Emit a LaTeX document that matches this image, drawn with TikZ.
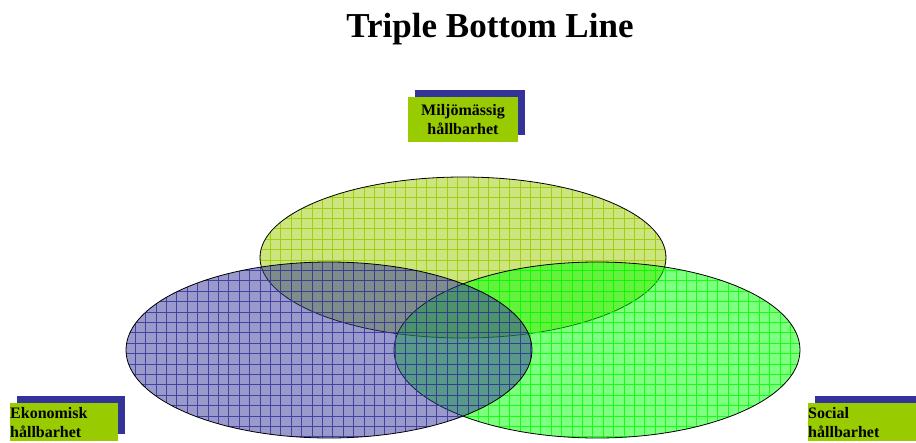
\documentclass[tikz,border=0pt]{standalone}
\usepackage{fontspec}
\setmainfont{Liberation Serif}
\usetikzlibrary{shadows}
\definecolor{lbgreen}{HTML}{99CC00}
\definecolor{shblue}{HTML}{333399}
\definecolor{brgreen}{HTML}{00FF00}

\begin{document}
\begin{tikzpicture}[x=1pt, y=-1pt,
  pillar/.style={fill=lbgreen, inner xsep=0pt, inner ysep=4pt, text width=108pt,
    font=\fontsize{16}{19}\selectfont\bfseries,
    drop shadow={shadow xshift=7pt, shadow yshift=7pt, opacity=1, fill=shblue}},
  heading/.style={font=\fontsize{35}{42}\selectfont\bfseries, anchor=base},
  rim/.style={draw=black, line width=0.8pt}
]
\clip (0,0) rectangle (916,442);

\node[heading] (heading) at (490,37) {Triple Bottom Line};

% the three overlapping ellipses: top, right, left
\foreach \cx/\cy/\ry/\col in {463/257.5/80.5/lbgreen, 597/350/88/brgreen, 329/350/88/shblue}{
  \begin{scope}
    \clip (\cx,\cy) ellipse [x radius=203, y radius=\ry];
    \fill[\col, fill opacity=.5] (\cx-203,\cy-\ry) rectangle (\cx+203,\cy+\ry);
    \draw[\col, opacity=.85, line width=0.9pt, step=10.4pt] (\cx-210,\cy-\ry-10) grid (\cx+210,\cy+\ry+10);
  \end{scope}
  \draw[rim] (\cx,\cy) ellipse [x radius=203, y radius=\ry];
}

\node[pillar, text width=110pt, minimum height=45pt, align=center] (miljo) at (463,119.5) {Miljömässig\\hållbarhet};
\node[pillar, anchor=north west, align=left] (eko) at (10,403) {Ekonomisk\\hållbarhet};
\node[pillar, anchor=north west, align=left] (social) at (808,403) {Social\\hållbarhet};
\end{tikzpicture}
\end{document}
